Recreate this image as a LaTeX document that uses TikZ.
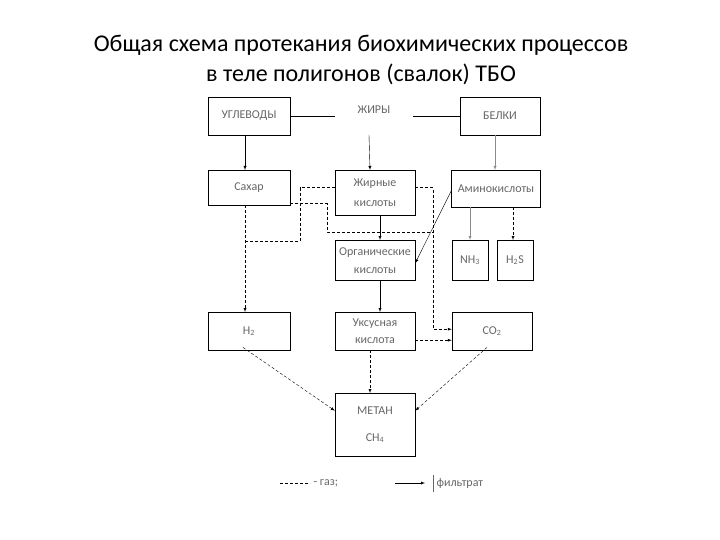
\documentclass[tikz,border=0pt]{standalone}
\usepackage{fontspec}
\setmainfont{Carlito}
\usepackage{tikz}
\tikzset{
    blok/.style={draw=black, rectangle, inner sep=1pt, align=center,
        text=black!60, font=\fontsize{12}{18}\selectfont},
    filtr/.style={draw=black, ->, >=latex},
    filtrgray/.style={draw=black!45, ->, >=latex},
    gaz/.style={draw=black, dashed, dash pattern=on 3pt off 2pt, ->, >=latex},
    gazline/.style={draw=black, dashed, dash pattern=on 3pt off 2pt}
}

\begin{document}
\begin{tikzpicture}[x=1pt, y=-1pt]
\useasboundingbox (0,0) rectangle (720,540);
% title
\node (title) at (361,60) [align=center, font=\fontsize{24}{30}\selectfont]
  {Общая схема протекания биохимических процессов\\в теле полигонов (свалок) ТБО};

% boxes
\node[blok, minimum width=82pt, minimum height=38pt] (ugl) at (249,116) {УГЛЕВОДЫ};
\node[blok, draw=none, minimum width=78pt, minimum height=38pt] (zhir) at (374,110) {ЖИРЫ};
\node[blok, minimum width=80pt, minimum height=38pt] (belk) at (500,116) {БЕЛКИ};

\node[blok, minimum width=82pt, minimum height=35pt, anchor=north] (sakh) at (249,170) {Сахар};
\node[blok, minimum width=80pt, minimum height=45pt, anchor=north,
  font=\fontsize{12}{20}\selectfont] (zhk) at (375,170) {Жирные\\кислоты};
\node[blok, minimum width=89pt, minimum height=37pt, anchor=north] (amino) at (496,170) {Аминокислоты};

\node[blok, minimum width=80pt, minimum height=40pt, anchor=north] (org) at (375,240) {Органические\\кислоты};
\node[blok, minimum width=36pt, minimum height=40pt, anchor=north] (nh) at (470,240) {NH\textsubscript{3}};
\node[blok, minimum width=36pt, minimum height=40pt, anchor=north] (hs) at (515,240) {H\textsubscript{2}S};

\node[blok, minimum width=82pt, minimum height=38pt, anchor=north] (h2) at (249,312) {H\textsubscript{2}};
\node[blok, minimum width=80pt, minimum height=38pt, anchor=north,
  font=\fontsize{12}{17}\selectfont] (uks) at (375,312) {Уксусная\\кислота};
\node[blok, minimum width=80pt, minimum height=38pt, anchor=north] (co) at (492,312) {CO\textsubscript{2}};

\node[blok, minimum width=80pt, minimum height=63pt, anchor=north,
  font=\fontsize{12}{27}\selectfont] (met) at (375,393) {МЕТАН\\CH\textsubscript{4}};

% solid links
\draw (ugl.east) -- ([yshift=-6pt]zhir.west);
\draw ([yshift=-6pt]zhir.east) -- (belk.west);
\draw[filtr] ([xshift=-4pt]ugl.south) -- ([xshift=-4pt]sakh.north);
\draw[filtr] ([xshift=-5pt,yshift=-25pt]zhir.center) -- ([xshift=-5pt]zhk.north);
\draw[filtrgray] ([xshift=-5pt]belk.south) -- ([xshift=-1pt]amino.north);
\draw[filtr] ([xshift=5pt]zhk.south) -- ([xshift=5pt]org.north);
\draw[filtr] ([xshift=5pt]org.south) -- ([xshift=5pt]uks.north);
\draw[filtr] ([yshift=-2pt]amino.west) -- ([yshift=-3pt]org.east);
\draw[filtrgray] ([xshift=-26pt]amino.south) -- (nh.north);
\draw[gaz] ([xshift=17pt]amino.south) -- ([xshift=-2pt]hs.north);

% gas links
\coordinate (sakhjoin) at (245,241);
\coordinate (cojoin) at (433,232);
\draw[gaz] ([xshift=-4pt]sakh.south) -- ([xshift=-4pt]h2.north);
\draw[gazline] ([yshift=5pt]zhk.west) -- ++(-35,0) |- (sakhjoin);
\draw[gazline] ([yshift=-16pt]sakh.east) -- ++(37,0) |- (cojoin);
\draw[gaz] ([yshift=5pt]zhk.east) -| ++(18,0) |- ([yshift=2pt]co.west);
\draw[gaz] ([yshift=-9pt]uks.east) -- ([yshift=-9pt]co.west);
\draw[gaz] ([xshift=-6pt,yshift=3pt]h2.south) -- ([yshift=14pt]met.west);
\draw[gaz] ([xshift=-5pt]uks.south) -- ([xshift=-5pt]met.north);
\draw[gaz] ([xshift=-5pt,yshift=3pt]co.south) -- ([yshift=14pt]met.east);

% legend
\coordinate (leggazA) at (280,483);
\coordinate (legfilA) at (395,483);
\node[text=black!60, font=\fontsize{12}{14}\selectfont, anchor=west] (leggaz) at (310,483) {- газ;};
\node[text=black!60, font=\fontsize{12}{14}\selectfont, anchor=west] (legfil) at (433,483) {фильтрат};
\draw[gazline] (leggazA) -- (leggaz.west);
\draw[filtr] (legfilA) -- ++(30,0);
\draw[black!60] ([yshift=8pt]legfil.west) -- ([yshift=-9pt]legfil.west);
\end{tikzpicture}
\end{document}
